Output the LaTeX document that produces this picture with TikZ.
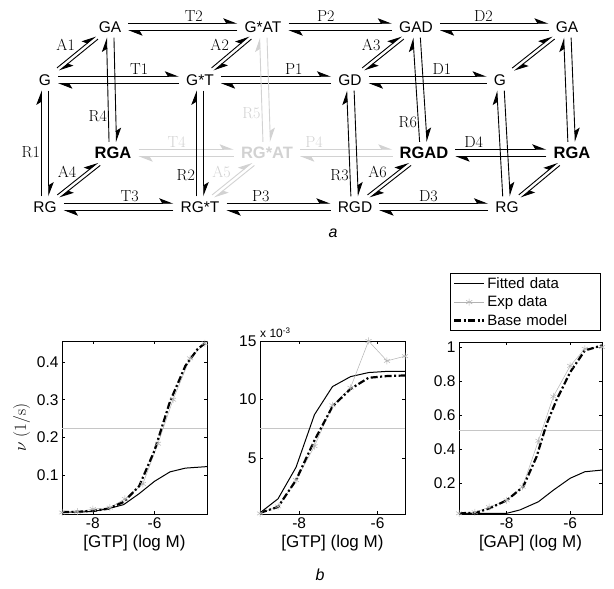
\documentclass[tikz,border=0pt]{standalone}
\usepackage{fontspec}
\setsansfont{Liberation Sans}
\usepackage{pgfplots}
\pgfplotsset{compat=1.15}
\usetikzlibrary{arrows.meta,calc}

\tikzset{
  sp/.style={font=\sffamily\fontsize{15.5}{18}\selectfont, inner xsep=7pt, inner ysep=5pt},
  spb/.style={sp, font=\sffamily\bfseries\fontsize{16.5}{19}\selectfont},
  faint/.style={gray!35},
  rlbl/.style={font=\fontsize{16}{18}\selectfont, inner sep=1pt},
  half/.style={line width=0.9pt, -{Stealth[harpoon,length=13pt,width=10pt,inset=3pt]}},
}

% forward and backward half-arrows between two states
\newcommand{\rx}[7][]{%
  \draw[half,#1,transform canvas={shift={(#4:#5)}}] (#2) -- node[rlbl,#6] {#7} (#3);
  \draw[half,#1,transform canvas={shift={({#4+180}:#5)}}] (#3) -- (#2);}

\pgfplotsset{
  panel/.style={scale only axis, height=173pt, anchor=south west,
    axis line style={line width=0.9pt}, tick style={black, line width=0.5pt},
    major tick length=3pt,
    tick label style={font=\sffamily\fontsize{15.5}{18}\selectfont},
    xlabel style={font=\sffamily\fontsize{17}{20}\selectfont},
    ylabel style={font=\fontsize{17}{19}\selectfont},
    xtick={-8,-6}, xticklabels={-8,-6}},
  fitted/.style={black, line width=1pt, no markers},
  expd/.style={gray!60, line width=0.5pt, mark=asterisk, mark size=3.5pt,
    mark options={gray!60, line width=0.5pt}},
  basem/.style={black, line width=2.2pt, no markers,
    dash pattern=on 7pt off 2.5pt on 2pt off 2.5pt},
  halfmax/.style={gray!45, line width=0.4pt, no markers, forget plot},
}

\begin{document}
\begin{tikzpicture}
  \useasboundingbox (0,0) rectangle (614pt,589pt);
  \begin{scope}[x=1pt,y=1pt]
    % states
    \node[sp] (GA1) at (110,562) {GA};
    \node[sp] (GAT) at (263,562) {G*AT};
    \node[sp] (GAD) at (416,562) {GAD};
    \node[sp] (GA2) at (567,562) {GA};
    \node[sp] (G1) at (45,509) {G};
    \node[sp] (GT) at (200,509) {G*T};
    \node[sp] (GD) at (350,509) {GD};
    \node[sp] (G2) at (500,509) {G};
    \node[spb] (RGA1) at (113,436) {RGA};
    \node[spb,faint] (RGAT) at (267,436) {RG*AT};
    \node[spb] (RGAD) at (424,436) {RGAD};
    \node[spb] (RGA2) at (572,436) {RGA};
    \node[sp] (RG1) at (45,382) {RG};
    \node[sp] (RGT) at (200,382) {RG*T};
    \node[sp] (RGD) at (355,382) {RGD};
    \node[sp] (RG2) at (507,382) {RG};
    % horizontal steps
    \rx{GA1}{GAT}{90}{3.7pt}{pos=.6,above}{T2}
    \rx{GAT}{GAD}{90}{3.7pt}{pos=.36,above}{P2}
    \rx{GAD}{GA2}{90}{3.7pt}{pos=.4,above}{D2}
    \rx{G1}{GT}{90}{3.7pt}{pos=.67,above}{T1}
    \rx{GT}{GD}{90}{3.7pt}{pos=.66,above}{P1}
    \rx{GD}{G2}{90}{3.7pt}{pos=.62,above}{D1}
    \rx[faint]{RGA1}{RGAT}{90}{3.7pt}{pos=.4,above}{T4}
    \rx[faint]{RGAT}{RGAD}{90}{3.7pt}{pos=.15,above}{P4}
    \rx{RGAD}{RGA2}{90}{3.7pt}{pos=.2,above}{D4}
    \rx{RG1}{RGT}{90}{3.7pt}{pos=.6,above}{T3}
    \rx{RGT}{RGD}{90}{3.7pt}{pos=.33,above}{P3}
    \rx{RGD}{RG2}{90}{3.7pt}{pos=.45,above}{D3}
    % vertical steps
    \rx{RG1}{G1}{180}{3.7pt}{pos=.42,left}{R1}
    \rx{RGA1}{GA1}{180}{3.7pt}{pos=.25,left}{R4}
    \rx{RGT}{GT}{180}{3.7pt}{pos=.2,left}{R2}
    \rx[faint]{RGAT}{GAT}{180}{3.7pt}{pos=.28,left}{R5}
    \rx{RGD}{GD}{180}{3.7pt}{pos=.2,left}{R3}
    \rx{RGAD}{GAD}{180}{3.7pt}{pos=.19,left}{R6}
    \rx{RG2}{G2}{180}{3.7pt}{}{}
    \rx{RGA2}{GA2}{180}{3.7pt}{}{}
    % diagonal steps
    \rx{G1}{GA1}{129}{1.8pt}{above left}{A1}
    \rx{GT}{GAT}{129}{1.8pt}{above left}{A2}
    \rx{GD}{GAD}{129}{1.8pt}{above left}{A3}
    \rx{G2}{GA2}{129}{1.8pt}{}{}
    \rx{RG1}{RGA1}{129}{1.8pt}{above left}{A4}
    \rx[faint]{RGT}{RGAT}{129}{1.8pt}{above left}{A5}
    \rx{RGD}{RGAD}{129}{1.8pt}{above left}{A6}
    \rx{RG2}{RGA2}{129}{1.8pt}{}{}
    \node[font=\sffamily\itshape\fontsize{16}{18}\selectfont] (capa) at (333,356) {a};
    \node[font=\sffamily\itshape\fontsize{16}{18}\selectfont] (capb) at (320,14) {b};
  \end{scope}

  % GTP, single turnover
  \begin{axis}[panel, name=pA, at={(62pt,75pt)}, width=145pt,
      xmin=-9, xmax=-4.3, ymin=-0.004, ymax=0.456,
      ytick={0.1,0.2,0.3,0.4}, yticklabels={0.1,0.2,0.3,0.4},
      xlabel={[GTP] (log M)}, ylabel={$\nu$ (1/s)}]
    \addplot[halfmax] coordinates {(-9,0.224) (-4.3,0.224)};
    \addplot[fitted] coordinates {(-9,0.001) (-8.5,0.001) (-8,0.003) (-7.5,0.01)
      (-7,0.021) (-6.5,0.05) (-6,0.083) (-5.5,0.108) (-5,0.118) (-4.3,0.122)};
    \addplot[expd] coordinates {(-9,0) (-8.5,0.002) (-8,0.009) (-7.45,0.013)
      (-6.96,0.036) (-6.38,0.076) (-5.89,0.183) (-5.4,0.3) (-4.85,0.41) (-4.37,0.45)};
    \addplot[basem] coordinates {(-9,0.001) (-8.5,0.002) (-8,0.004) (-7.5,0.01)
      (-7,0.028) (-6.5,0.07) (-6,0.165) (-5.5,0.295) (-5,0.39) (-4.6,0.435) (-4.3,0.454)};
  \end{axis}

  % GTP, steady state
  \begin{axis}[panel, name=pB, at={(260pt,75pt)}, width=145pt,
      xmin=-9, xmax=-5.3, ymin=0.2, ymax=15,
      ytick={5,10,15}, yticklabels={5,10,15},
      xlabel={[GTP] (log M)}]
    \addplot[halfmax] coordinates {(-9,7.5) (-5.3,7.5)};
    \addplot[fitted] coordinates {(-9,0.3) (-8.54,1.5) (-8.08,4.2) (-7.61,8.7)
      (-7.15,11.1) (-6.69,11.95) (-6.23,12.3) (-5.76,12.4) (-5.3,12.4)};
    \addplot[expd] coordinates {(-9,0.25) (-8.54,0.85) (-8.08,3.1) (-7.61,6.0)
      (-7.15,9.5) (-6.69,11.0) (-6.23,15.0) (-5.76,13.3) (-5.3,13.7)};
    \addplot[basem] coordinates {(-9,0.3) (-8.54,0.8) (-8.08,3.1) (-7.61,6.5)
      (-7.15,9.4) (-6.69,10.9) (-6.23,11.85) (-5.76,12.0) (-5.3,12.05)};
  \end{axis}
  \node[anchor=south west, inner sep=0pt, yshift=3pt,
    font=\sffamily\fontsize{12}{14}\selectfont] (scl) at (pB.north west)
    {x 10\textsuperscript{-3}};

  % GAP
  \begin{axis}[panel, name=pC, at={(459pt,75pt)}, width=143pt, height=172pt,
      xmin=-9.5, xmax=-5, ymin=0.02, ymax=1.03,
      ytick={0.2,0.4,0.6,0.8,1}, yticklabels={0.2,0.4,0.6,0.8,1},
      xlabel={[GAP] (log M)},
      legend cell align=left,
      legend image code/.code={\draw[mark repeat=2,mark phase=2,#1]
        plot coordinates {(0pt,0pt) (15pt,0pt) (30pt,0pt)};},
      legend style={at={(0.99,1.064)}, anchor=south east, draw=black,
        line width=0.6pt, font=\sffamily\fontsize{15}{17}\selectfont,
        inner xsep=3pt, inner ysep=2pt, row sep=2pt,
        /tikz/every even column/.append style={text width=108pt}}]
    \addplot[halfmax] coordinates {(-9.5,0.51) (-5,0.51)};
    \addplot[fitted] coordinates {(-9.5,0.024) (-9,0.024) (-8.5,0.024) (-8,0.024)
      (-7.58,0.044) (-7,0.092) (-6.53,0.16) (-6,0.23) (-5.54,0.268) (-5,0.278)};
    \addplot[expd] coordinates {(-9.5,0.024) (-9,0.03) (-8.55,0.06) (-8,0.1)
      (-7.5,0.18) (-7,0.45) (-6.53,0.71) (-6,0.89) (-5.54,0.99) (-5,1.0)};
    \addplot[basem] coordinates {(-9.5,0.024) (-8.95,0.028) (-8.53,0.054) (-8,0.1)
      (-7.48,0.18) (-7.06,0.356) (-6.74,0.55) (-6.43,0.69) (-6,0.853) (-5.54,0.98) (-5,1.01)};
    \legend{Fitted data, Exp data, Base model}
  \end{axis}
\end{tikzpicture}
\end{document}
